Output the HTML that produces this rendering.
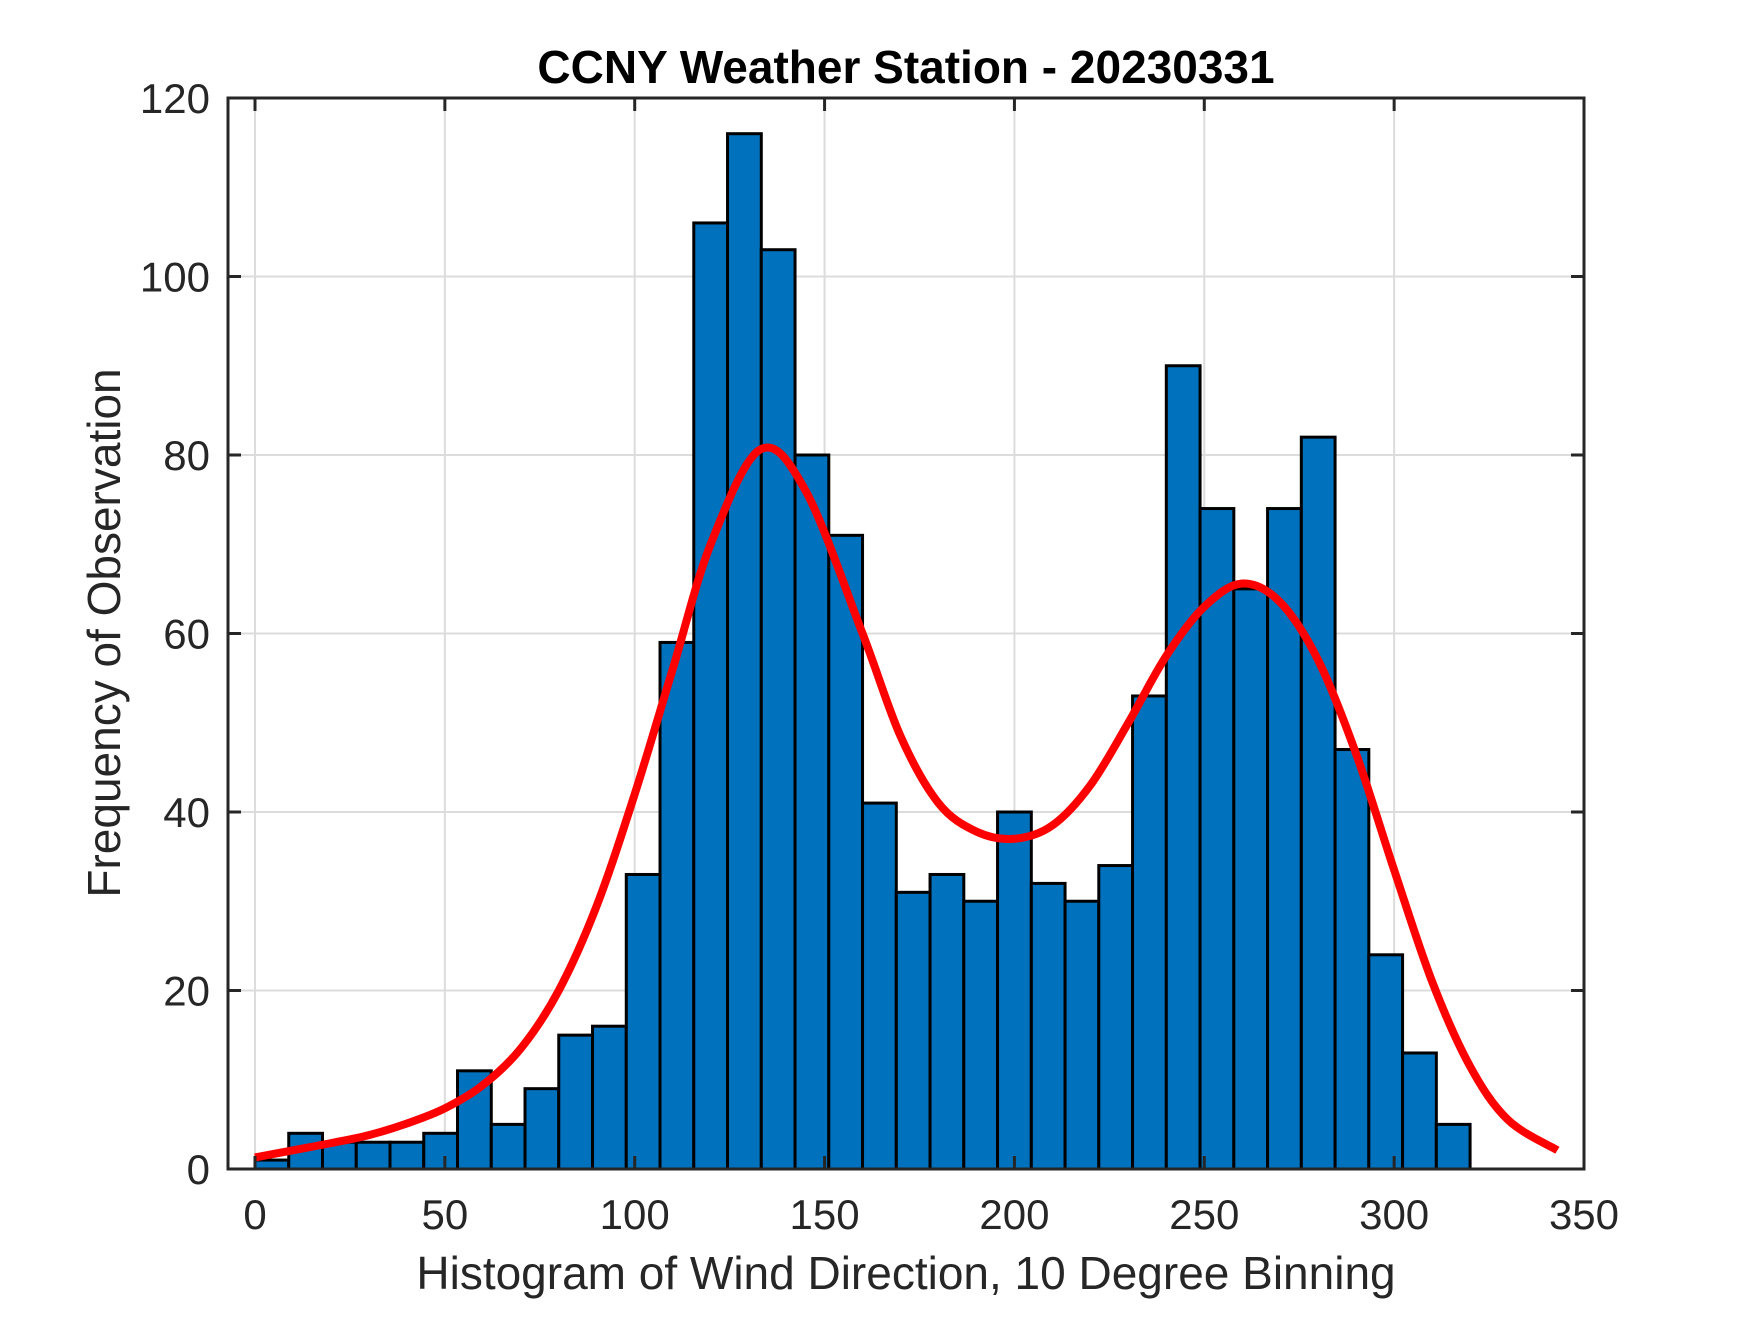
<!DOCTYPE html>
<html><head><meta charset="utf-8"><style>
html,body{margin:0;padding:0;background:#fff;}
svg text{font-family:"Liberation Sans",Arial,sans-serif;fill:#262626;}
</style></head><body>
<svg id="chart" width="1750" height="1313" viewBox="0 0 1750 1313" xmlns="http://www.w3.org/2000/svg">
<rect x="0" y="0" width="1750" height="1313" fill="#fff"/>
<g id="grid"></g>
<g id="bars"></g>
<g id="curve"></g>
<g id="axes"></g>
<text x="906" y="83" text-anchor="middle" font-size="46" font-weight="bold" style="fill:#000">CCNY Weather Station - 20230331</text>
<text x="906" y="1289" text-anchor="middle" font-size="46">Histogram of Wind Direction, 10 Degree Binning</text>
<text x="0" y="0" transform="translate(120,633) rotate(-90)" text-anchor="middle" font-size="46">Frequency of Observation</text>
</svg>
<script>
const counts = [1,4,3,3,3,4,11,5,9,15,16,33,59,106,116,103,80,71,41,31,33,30,40,32,30,34,53,90,74,65,74,82,47,24,13,5];
const binStart = 0;
const binEnd = 320;
const curveX = [0,10,20,30,40,50,60,70,80,90,100,110,120,133,145,160,170,180,190,200,210,220,230,240,250,260,270,280,290,300,310,320,330,343];
const curveY = [1.3,2.1,2.9,3.8,5.1,6.8,9.4,13.5,20,29.5,42,56,70,80.6,76,60,48.5,41,37.8,37,38.5,43,50,57.5,63,65.6,63.5,57,46.5,33.5,21,11.5,5.5,2.1];
const xTicks = [0,50,100,150,200,250,300,350];
const yTicks = [0,20,40,60,80,100,120];

const NS='http://www.w3.org/2000/svg';
const L=228,R=1584,T=98,B=1169;
const X0=255, XS=(1584-255)/350;
const sx=v=>X0+v*XS;
const sy=v=>B-(v/120)*(B-T);
function mk(tag,attrs,parent){const e=document.createElementNS(NS,tag);for(const k in attrs)e.setAttribute(k,attrs[k]);parent.appendChild(e);return e;}
const grid=document.getElementById('grid'),bars=document.getElementById('bars'),curve=document.getElementById('curve'),axes=document.getElementById('axes');
xTicks.forEach(t=>{const g=mk('line',{x1:sx(t),x2:sx(t),y1:T,y2:B,stroke:'#dcdcdc','stroke-width':2},grid);

});
yTicks.forEach(t=>{const g=mk('line',{x1:L,x2:R,y1:sy(t),y2:sy(t),stroke:'#dcdcdc','stroke-width':2},grid);

});
const bw=(binEnd-binStart)/counts.length;
counts.forEach((c,i)=>{const x1=sx(binStart+i*bw),x2=sx(binStart+(i+1)*bw);
const r=mk('rect',{x:x1,y:sy(c),width:x2-x1,height:sy(0)-sy(c),fill:'#0072BD',stroke:'#000','stroke-width':3},bars);

});
const P=curveX.map((x,i)=>[sx(x),sy(curveY[i])]);
let d='M'+P[0][0]+','+P[0][1];
for(let i=0;i<P.length-1;i++){const p0=P[i-1]||P[i],p1=P[i],p2=P[i+1],p3=P[i+2]||P[i+1];
d+=' C'+(p1[0]+(p2[0]-p0[0])/6)+','+(p1[1]+(p2[1]-p0[1])/6)+' '+(p2[0]-(p3[0]-p1[0])/6)+','+(p2[1]-(p3[1]-p1[1])/6)+' '+p2[0]+','+p2[1];}
const cp=mk('path',{d:d,fill:'none',stroke:'#ff0000','stroke-width':8,'stroke-linejoin':'round'},curve);


const box=mk('rect',{x:L,y:T,width:R-L,height:B-T,fill:'none',stroke:'#262626','stroke-width':3},axes);


xTicks.forEach(t=>{mk('line',{x1:sx(t),x2:sx(t),y1:B,y2:B-13,stroke:'#262626','stroke-width':3},axes);
mk('line',{x1:sx(t),x2:sx(t),y1:T,y2:T+13,stroke:'#262626','stroke-width':3},axes);
const tx=mk('text',{x:sx(t),y:1229,'text-anchor':'middle','font-size':'42'},axes);tx.textContent=t;

});
yTicks.forEach(t=>{mk('line',{x1:L,x2:L+13,y1:sy(t),y2:sy(t),stroke:'#262626','stroke-width':3},axes);
mk('line',{x1:R,x2:R-13,y1:sy(t),y2:sy(t),stroke:'#262626','stroke-width':3},axes);
const tx=mk('text',{x:210,y:sy(t)+15,'text-anchor':'end','font-size':'42'},axes);tx.textContent=t;

});
</script>
</body></html>
